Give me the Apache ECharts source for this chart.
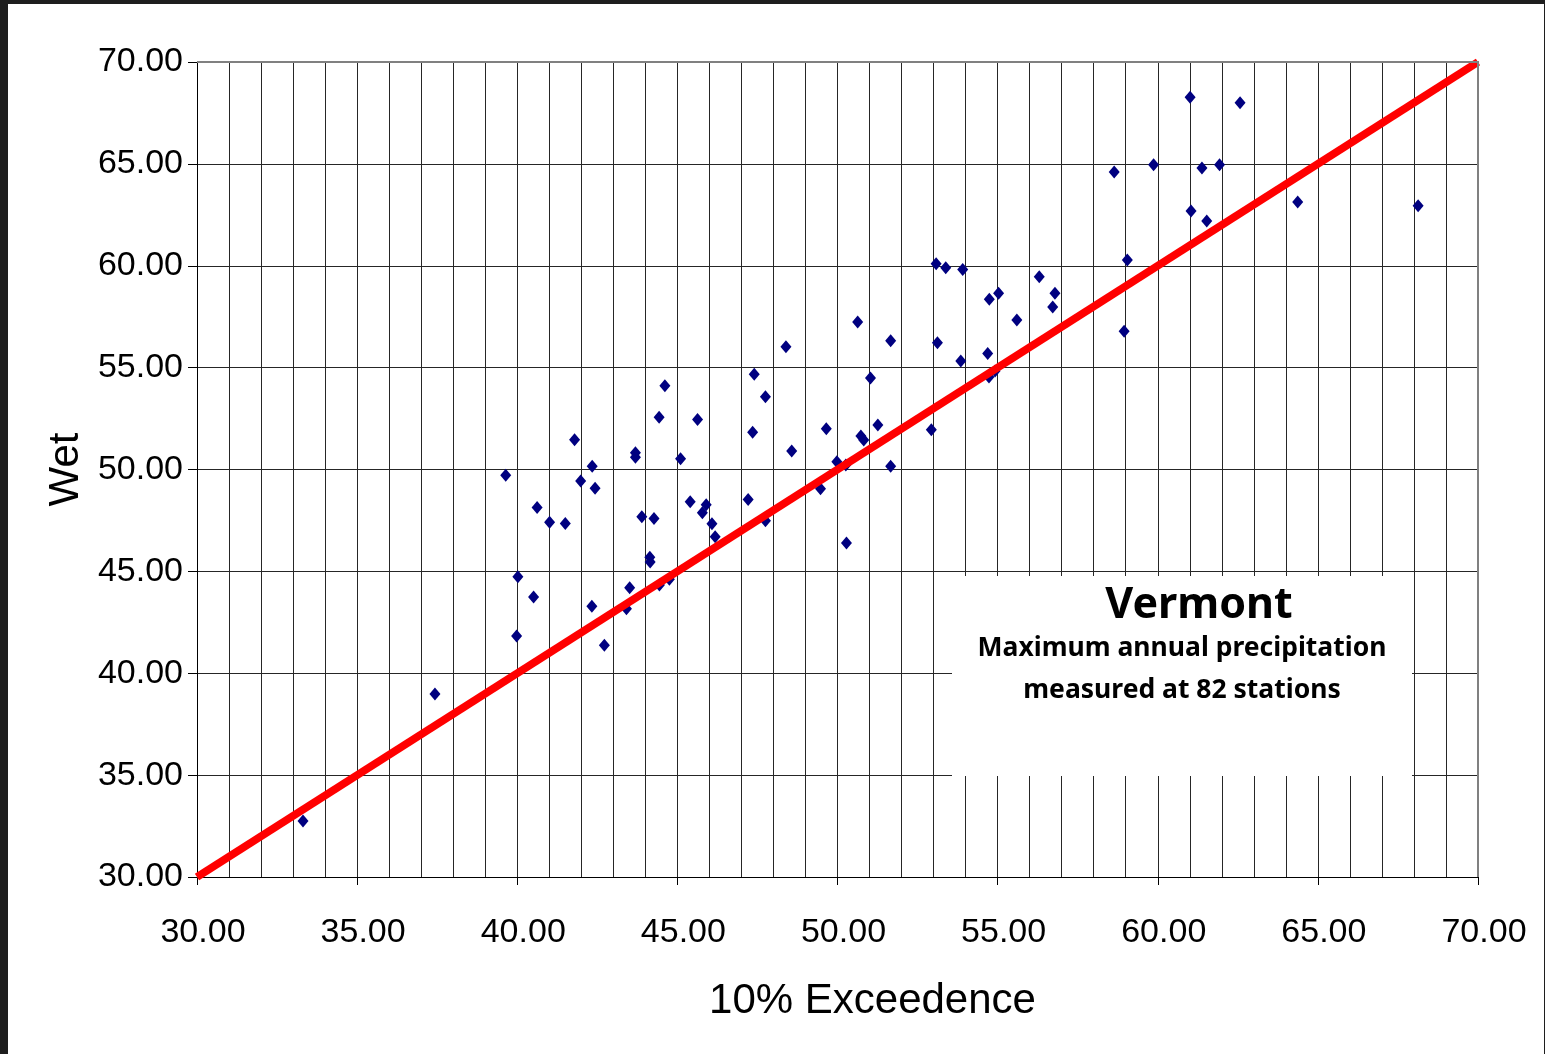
<!DOCTYPE html>
<html>
<head>
<meta charset="utf-8">
<script src="https://cdn.jsdelivr.net/npm/echarts@6/dist/echarts.min.js"></script>
<style>
html,body{margin:0;padding:0;background:#fff;}
#chart{width:1545px;height:1054px;}
</style>
</head>
<body>
<div id="chart"></div>
<script>
// Station values: x = 10% Exceedence, y = Wet
const exceedence = [
  33.31, 37.43, 39.64, 40.02, 39.98, 40.51, 40.62, 41.01, 41.50, 41.79,
  41.98, 42.34, 42.43, 42.33, 42.72, 43.41, 43.51, 43.69, 43.69, 43.89,
  44.27, 44.14, 44.15, 44.43, 44.61, 44.44, 44.75, 45.10, 45.40, 45.63,
  45.78, 45.90, 46.08, 46.18, 47.21, 47.40, 47.35, 47.75, 47.75, 48.39,
  48.57, 49.47, 49.65, 49.98, 50.28, 50.26, 50.63, 50.73, 50.82, 51.03,
  51.26, 51.66, 51.66, 52.93, 53.08, 53.38, 53.12, 53.91, 53.85, 54.74,
  55.03, 54.69, 54.73, 54.92, 55.60, 56.30, 56.79, 56.72, 58.64, 58.95,
  59.05, 59.87, 61.01, 61.04, 61.38, 61.53, 61.93, 62.57, 64.37, 68.13
];
const wet = [
  32.75, 38.98, 49.72, 44.74, 41.83, 43.74, 48.14, 47.41, 47.35, 51.46,
  49.44, 50.16, 49.08, 43.29, 41.37, 43.17, 44.20, 50.82, 50.60, 47.68,
  47.59, 45.69, 45.46, 52.56, 54.11, 44.33, 44.61, 50.53, 48.42, 52.46,
  47.88, 48.27, 47.34, 46.70, 48.53, 54.67, 51.83, 47.48, 53.57, 56.03,
  50.91, 49.06, 52.00, 50.38, 46.39, 50.22, 57.24, 51.64, 51.45, 54.49,
  52.18, 56.32, 50.16, 51.95, 60.10, 59.90, 56.22, 59.82, 55.32, 58.35,
  58.65, 55.69, 54.54, 54.83, 57.34, 59.46, 58.65, 57.98, 64.60, 56.79,
  60.28, 64.96, 68.27, 62.69, 64.80, 62.20, 64.96, 68.00, 63.13, 62.95
];
const referenceLine = [[30, 30], [70, 70]];
const axisMin = 30, axisMax = 70, majorStep = 5;
const titleText = 'Vermont';
const subtitleLines = ['Maximum annual precipitation', 'measured at 82 stations'];
const xName = '10% Exceedence';
const yName = 'Wet';

const points = exceedence.map((x, i) => [x, wet[i]]);
const fontFam = '"Liberation Sans", Arial, sans-serif';
const boxFont = '"Noto Sans", "DejaVu Sans", sans-serif';
const gridColor = '#262626';

const chart = echarts.init(document.getElementById('chart'), null, {renderer: 'canvas'});
chart.setOption({
  animation: false,
  backgroundColor: '#ffffff',
  grid: {left: 197, top: 62, width: 1281, height: 815, show: false},
  xAxis: {
    type: 'value', min: axisMin, max: axisMax, interval: majorStep,
    name: xName, nameLocation: 'middle', nameGap: 103,
    nameTextStyle: {fontFamily: fontFam, fontSize: 42, color: '#000', padding: [0, 0, 0, 70]},
    axisLine: {show: true, onZero: false, lineStyle: {color: '#000', width: 1}},
    axisTick: {show: true, length: 8, lineStyle: {color: '#000'}},
    minorTick: {show: false, splitNumber: 5},
    axisLabel: {fontFamily: fontFam, fontSize: 34, color: '#000', margin: 39,
      padding: [0, 0, 0, 12], formatter: v => v.toFixed(2)},
    splitLine: {show: true, lineStyle: {color: gridColor, width: 1}},
    minorSplitLine: {show: true, lineStyle: {color: gridColor, width: 1}}
  },
  yAxis: {
    type: 'value', min: axisMin, max: axisMax, interval: majorStep,
    name: yName, nameLocation: 'middle', nameGap: 104,
    nameTextStyle: {fontFamily: fontFam, fontSize: 42, color: '#000'},
    axisLine: {show: true, onZero: false, lineStyle: {color: '#000', width: 1}},
    axisTick: {show: true, length: 9, lineStyle: {color: '#000'}},
    axisLabel: {fontFamily: fontFam, fontSize: 34, color: '#000', margin: 14,
      padding: [8, 0, 0, 0], formatter: v => v.toFixed(2)},
    splitLine: {show: true, lineStyle: {color: gridColor, width: 1}}
  },
  series: [
    {
      type: 'scatter', data: points, symbol: 'diamond', symbolSize: [11, 13],
      itemStyle: {color: '#000080', opacity: 1}, z: 3
    },
    {
      type: 'line', data: referenceLine, showSymbol: false, symbol: 'none',
      lineStyle: {color: '#ff0000', width: 8, cap: 'butt'}, z: 4, silent: true
    }
  ],
  graphic: [
    {type: 'rect', shape: {x: 197, y: 61, width: 1282, height: 2}, style: {fill: '#808080'}, z: 50},
    {type: 'rect', shape: {x: 1477, y: 61, width: 2, height: 816}, style: {fill: '#808080'}, z: 50},
    {type: 'rect', shape: {x: 952, y: 576, width: 460, height: 200}, style: {fill: '#ffffff'}, z: 60},
    {type: 'text', x: 1199, y: 606, z: 61, style: {text: titleText, fontFamily: boxFont, fontWeight: 'bold', fontSize: 43, fill: '#000', align: 'center', verticalAlign: 'middle'}},
    {type: 'text', x: 1182, y: 648, z: 61, style: {text: subtitleLines[0], fontFamily: boxFont, fontWeight: 'bold', fontSize: 26.5, fill: '#000', align: 'center', verticalAlign: 'middle'}},
    {type: 'text', x: 1182, y: 690, z: 61, style: {text: subtitleLines[1], fontFamily: boxFont, fontWeight: 'bold', fontSize: 26.5, fill: '#000', align: 'center', verticalAlign: 'middle'}},
    {type: 'rect', shape: {x: 0, y: 0, width: 1545, height: 4}, style: {fill: '#1e1e1e'}, z: 70},
    {type: 'rect', shape: {x: 0, y: 0, width: 8, height: 1054}, style: {fill: '#1e1e1e'}, z: 70},
    {type: 'rect', shape: {x: 1544, y: 0, width: 1, height: 1054}, style: {fill: '#1e1e1e'}, z: 70}
  ]
});
</script>
</body>
</html>
